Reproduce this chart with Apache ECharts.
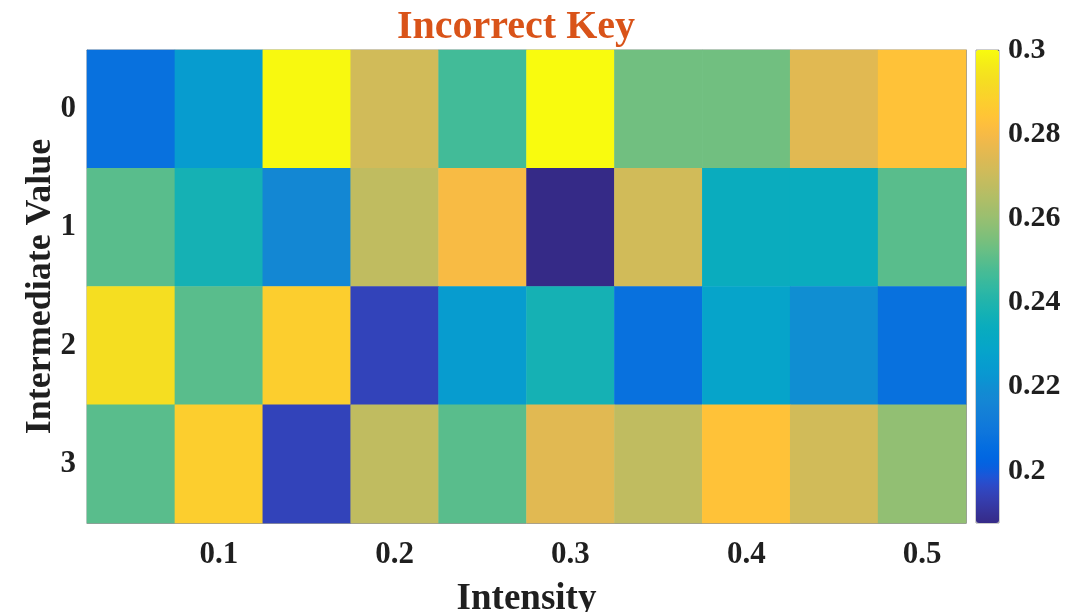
<!DOCTYPE html>
<html>
<head>
<meta charset="utf-8">
<script src="https://cdn.jsdelivr.net/npm/echarts@6/dist/echarts.min.js"></script>
<style>
  html, body { margin: 0; padding: 0; background: #ffffff; }
  #chart { width: 1082px; height: 612px; }
</style>
</head>
<body>
<div id="chart"></div>
<script>
// Intensity categories (columns) and intermediate values (rows)
const intensities = ['0.05', '0.1', '0.15', '0.2', '0.25', '0.3', '0.35', '0.4', '0.45', '0.5'];
const intermediates = ['0', '1', '2', '3'];

// Cell values, one array per intermediate value
const row0 = [0.2073, 0.2250, 0.2995, 0.2715, 0.2465, 0.3000, 0.2536, 0.2536, 0.2750, 0.2835];
const row1 = [0.2500, 0.2375, 0.2172, 0.2679, 0.2804, 0.1876, 0.2715, 0.2340, 0.2340, 0.2500];
const row2 = [0.2929, 0.2500, 0.2875, 0.1947, 0.2250, 0.2375, 0.2073, 0.2286, 0.2197, 0.2073];
const row3 = [0.2500, 0.2875, 0.1947, 0.2679, 0.2500, 0.2750, 0.2679, 0.2835, 0.2715, 0.2590];

// Colour scale range and colorbar tick labels
const scaleMin = 0.1876;
const scaleMax = 0.3;
const colorbarTicks = [0.2, 0.22, 0.24, 0.26, 0.28, 0.3];

// parula colormap (64 entries)
const parula = [
  [0.2081,0.1663,0.5292],[0.2116,0.1898,0.5777],[0.2123,0.2138,0.6270],[0.2081,0.2386,0.6771],
  [0.1959,0.2645,0.7279],[0.1707,0.2919,0.7792],[0.1253,0.3242,0.8303],[0.0591,0.3598,0.8683],
  [0.0117,0.3875,0.8820],[0.0060,0.4086,0.8828],[0.0165,0.4266,0.8786],[0.0329,0.4430,0.8720],
  [0.0498,0.4586,0.8641],[0.0629,0.4737,0.8554],[0.0723,0.4887,0.8467],[0.0779,0.5040,0.8384],
  [0.0793,0.5200,0.8312],[0.0749,0.5375,0.8263],[0.0641,0.5570,0.8240],[0.0488,0.5772,0.8228],
  [0.0343,0.5966,0.8199],[0.0265,0.6137,0.8135],[0.0239,0.6287,0.8038],[0.0231,0.6418,0.7913],
  [0.0228,0.6535,0.7768],[0.0267,0.6642,0.7607],[0.0384,0.6743,0.7436],[0.0590,0.6838,0.7254],
  [0.0843,0.6928,0.7062],[0.1133,0.7015,0.6859],[0.1453,0.7098,0.6646],[0.1801,0.7177,0.6424],
  [0.2178,0.7250,0.6193],[0.2586,0.7317,0.5954],[0.3022,0.7376,0.5712],[0.3482,0.7424,0.5473],
  [0.3953,0.7459,0.5244],[0.4420,0.7481,0.5033],[0.4871,0.7491,0.4840],[0.5300,0.7491,0.4661],
  [0.5709,0.7485,0.4494],[0.6099,0.7473,0.4337],[0.6473,0.7456,0.4188],[0.6834,0.7435,0.4044],
  [0.7184,0.7411,0.3905],[0.7525,0.7384,0.3768],[0.7858,0.7356,0.3633],[0.8185,0.7327,0.3498],
  [0.8507,0.7299,0.3360],[0.8824,0.7274,0.3217],[0.9139,0.7258,0.3063],[0.9450,0.7261,0.2886],
  [0.9739,0.7314,0.2666],[0.9938,0.7455,0.2403],[0.9990,0.7653,0.2164],[0.9955,0.7861,0.1967],
  [0.9880,0.8066,0.1794],[0.9789,0.8271,0.1633],[0.9697,0.8481,0.1475],[0.9626,0.8705,0.1309],
  [0.9589,0.8949,0.1132],[0.9598,0.9218,0.0948],[0.9661,0.9514,0.0755],[0.9763,0.9831,0.0538]
].map(c => 'rgb(' + c.map(v => Math.round(v * 255)).join(',') + ')');

const rows = [row0, row1, row2, row3];
const cells = [];
rows.forEach((row, r) => row.forEach((v, c) => cells.push([c, r, v])));

const FONT = "'Liberation Serif', 'Times New Roman', serif";
const TEXT = '#1f1f1f';
const FRAME = '#9a9a9a';
const showEveryOther = (i) => i % 2 === 1;

const chart = echarts.init(document.getElementById('chart'));
chart.setOption({
  backgroundColor: '#ffffff',
  animation: false,
  title: {
    text: 'Incorrect Key',
    left: 511,
    top: 3,
    textAlign: 'center',
    textStyle: { fontFamily: FONT, fontWeight: 'bold', fontSize: 40, color: '#D95319' }
  },
  grid: [
    { left: 87, top: 50, width: 879, height: 473, outerBoundsMode: 'none', show: true, borderColor: FRAME, borderWidth: 1, backgroundColor: 'transparent' },
    { left: 976, top: 50, width: 23, height: 473, outerBoundsMode: 'none', show: true, borderColor: FRAME, borderWidth: 1, backgroundColor: 'transparent' }
  ],
  xAxis: [
    {
      type: 'category', gridIndex: 0, position: 'bottom', data: intensities,
      name: 'Intensity', nameLocation: 'middle', nameGap: 58, nameMoveOverlap: false,
      nameTextStyle: { fontFamily: FONT, fontWeight: 'bold', fontSize: 37, color: TEXT },
      axisLine: { show: true, lineStyle: { color: FRAME } },
      axisTick: { show: true, inside: true, length: 8, alignWithLabel: true, interval: showEveryOther, lineStyle: { color: '#777' } },
      axisLabel: { interval: showEveryOther, margin: 16, fontFamily: FONT, fontWeight: 'bold', fontSize: 31, color: TEXT },
      splitLine: { show: false }
    },
    {
      type: 'category', gridIndex: 0, position: 'top', data: intensities,
      axisLine: { show: true, lineStyle: { color: FRAME } },
      axisTick: { show: true, inside: true, length: 8, alignWithLabel: true, interval: showEveryOther, lineStyle: { color: '#777' } },
      axisLabel: { show: false },
      splitLine: { show: false }
    },
    {
      type: 'category', gridIndex: 1, data: [''], show: false
    }
  ],
  yAxis: [
    {
      type: 'category', gridIndex: 0, position: 'left', data: intermediates, inverse: true,
      name: 'Intermediate Value', nameLocation: 'middle', nameGap: 28, nameMoveOverlap: false,
      nameTextStyle: { fontFamily: FONT, fontWeight: 'bold', fontSize: 36, color: TEXT },
      axisLine: { show: true, lineStyle: { color: FRAME } },
      axisTick: { show: true, inside: true, length: 8, alignWithLabel: true, lineStyle: { color: '#777' } },
      axisLabel: { margin: 11, fontFamily: FONT, fontWeight: 'bold', fontSize: 31, color: TEXT },
      splitLine: { show: false }
    },
    {
      type: 'category', gridIndex: 0, position: 'right', data: intermediates, inverse: true,
      axisLine: { show: true, lineStyle: { color: FRAME } },
      axisTick: { show: true, inside: true, length: 8, alignWithLabel: true, lineStyle: { color: '#777' } },
      axisLabel: { show: false },
      splitLine: { show: false }
    },
    {
      type: 'value', gridIndex: 1, position: 'right', min: scaleMin, max: scaleMax,
      axisLine: { show: false },
      axisTick: { show: true, inside: true, length: 4, customValues: colorbarTicks, lineStyle: { color: '#555' } },
      axisLabel: {
        customValues: colorbarTicks, margin: 9,
        fontFamily: FONT, fontWeight: 'bold', fontSize: 30, color: TEXT,
        formatter: (v) => String(+Number(v).toFixed(2))
      },
      splitLine: { show: false }
    }
  ],
  visualMap: {
    type: 'continuous',
    seriesIndex: 0,
    min: scaleMin,
    max: scaleMax,
    orient: 'vertical',
    left: 976,
    top: 50,
    padding: 0,
    itemWidth: 23,
    itemHeight: 473,
    calculable: false,
    hoverLink: false,
    showLabel: false,
    text: null,
    inRange: { color: parula },
    z: 1
  },
  series: [{
    type: 'heatmap',
    xAxisIndex: 0,
    yAxisIndex: 0,
    data: cells,
    itemStyle: { borderWidth: 0 },
    emphasis: { disabled: true }
  }]
});
</script>
</body>
</html>
